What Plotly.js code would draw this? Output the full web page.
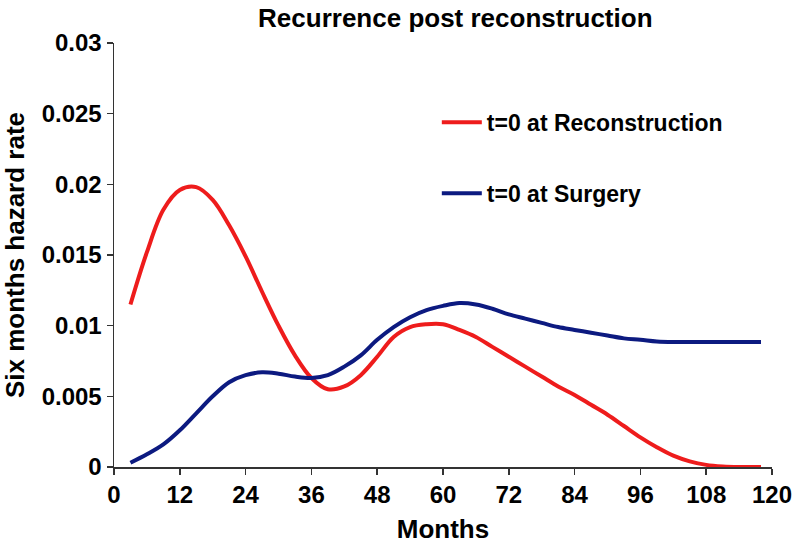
<!DOCTYPE html>
<html>
<head>
<meta charset="utf-8">
<script src="https://cdn.plot.ly/plotly-3.0.1.min.js"></script>
<style>html,body{margin:0;padding:0;background:#fff;}#chart{width:796px;height:550px;}</style>
</head>
<body>
<div id="chart"></div>
<script>
// Months
const months = [3, 6, 9, 12, 15, 18, 21, 24, 27, 30, 33, 36, 39, 42, 45, 48, 51, 54, 57, 60, 63, 66, 69, 72, 75, 78, 81, 84, 87, 90, 93, 96, 99, 102, 105, 108, 111, 114, 118];
// t=0 at Reconstruction
const reconstruction = [0.0115, 0.0152, 0.0182, 0.0196, 0.0198, 0.0189, 0.0171, 0.0149, 0.0124, 0.0100, 0.0079, 0.0063, 0.0055, 0.0057, 0.0065, 0.0078, 0.0092, 0.0099, 0.0101, 0.0101, 0.0097, 0.0092, 0.0085, 0.0078, 0.0071, 0.0064, 0.0057, 0.0051, 0.0044, 0.0037, 0.0029, 0.0021, 0.0014, 0.0008, 0.0004, 0.00015, 0.00004, 0.0, 0.0];
// t=0 at Surgery
const surgery = [0.0003, 0.0009, 0.0016, 0.0026, 0.0038, 0.0050, 0.0060, 0.0065, 0.0067, 0.0066, 0.0064, 0.0063, 0.0065, 0.0071, 0.0079, 0.0090, 0.0099, 0.0106, 0.0111, 0.0114, 0.0116, 0.0115, 0.0112, 0.0108, 0.0105, 0.0102, 0.0099, 0.0097, 0.0095, 0.0093, 0.0091, 0.0090, 0.00888, 0.00884, 0.00884, 0.00885, 0.00885, 0.00885, 0.00885];
const seriesNames = ['t=0 at Reconstruction', 't=0 at Surgery'];
const xTicks = [0, 12, 24, 36, 48, 60, 72, 84, 96, 108, 120];

const FONT = 'Liberation Sans, Arial, sans-serif';
const traces = [
  {x: months, y: reconstruction, name: seriesNames[0], mode: 'lines', legendgroup: 'a',
   line: {color: '#ee1c1c', width: 4, shape: 'spline', smoothing: 1}},
  {x: months, y: surgery, name: seriesNames[1], mode: 'lines', legendgroup: 'b',
   line: {color: '#0c1a80', width: 4, shape: 'spline', smoothing: 1}}
];
const layout = {
  width: 796, height: 550,
  margin: {l: 114, r: 24, t: 43, b: 83},
  paper_bgcolor: '#fff', plot_bgcolor: '#fff',
  font: {family: FONT, color: '#000', size: 22, weight: 'bold'},
  title: {text: '<b>Recurrence post reconstruction</b>', x: 0.572, xref: 'container', xanchor: 'center',
          y: 0.967, yref: 'container', yanchor: 'middle', font: {size: 26, family: FONT}},
  xaxis: {range: [0, 120], tickvals: xTicks, ticktext: xTicks.map(String), showgrid: false, zeroline: false,
          showline: true, linecolor: '#333', linewidth: 1.5, ticks: 'outside', ticklen: 6, tickwidth: 1.5, tickcolor: '#333',
          tickfont: {size: 24, family: FONT, weight: 'bold'},
          title: {text: '<b>Months</b>', font: {size: 26, family: FONT}, standoff: 12}},
  yaxis: {range: [0, 0.03], dtick: 0.005, tick0: 0, showgrid: false, zeroline: false,
          showline: true, linecolor: '#333', linewidth: 1.5, ticks: 'outside', ticklen: 6, tickwidth: 1.5, tickcolor: '#333',
          tickfont: {size: 24, family: FONT, weight: 'bold'},
          title: {text: '<b>Six months hazard rate</b>', font: {size: 26, family: FONT}, standoff: 10}},
  legend: {x: 0.4906, y: 0.8635, xanchor: 'left', yanchor: 'top', bgcolor: 'rgba(0,0,0,0)', itemwidth: 40,
           traceorder: 'grouped', tracegroupgap: 38, font: {size: 23, family: FONT, weight: 'bold'}},
  showlegend: true
};
Plotly.newPlot('chart', traces, layout, {displayModeBar: false, staticPlot: true});
</script>
</body>
</html>
